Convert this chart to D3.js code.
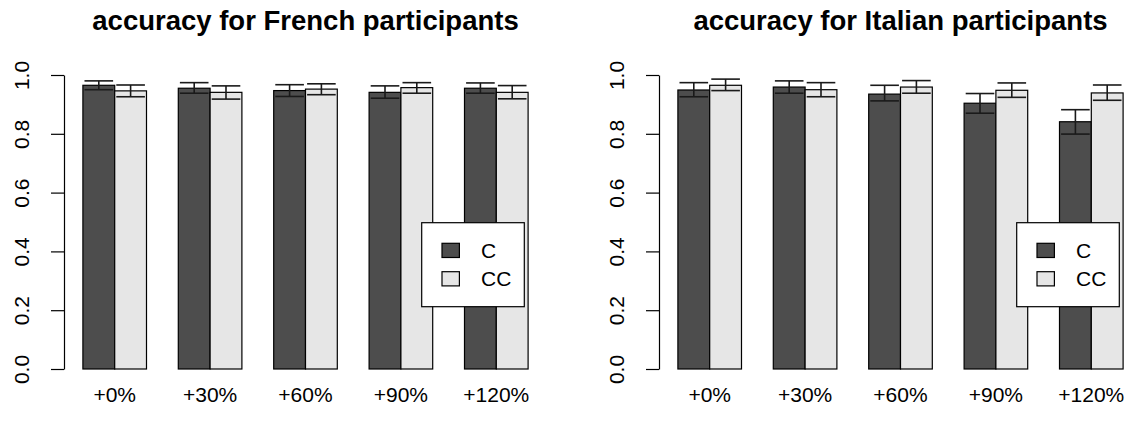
<!DOCTYPE html>
<html>
<head>
<meta charset="utf-8">
<script src="https://cdn.jsdelivr.net/npm/d3@7"></script>
<style>
  html, body { margin: 0; padding: 0; background: #fff; }
  svg { display: block; font-family: "Liberation Sans", Arial, sans-serif; }
</style>
</head>
<body>
<svg id="chart" width="1140" height="425"></svg>
<script>
const categories = ['+0%', '+30%', '+60%', '+90%', '+120%'];
const series = ['C', 'CC'];
const yTicks = [0, 0.2, 0.4, 0.6, 0.8, 1.0];

// French participants
const frenchC = [0.965, 0.955, 0.947, 0.941, 0.955];
const frenchCLo = [0.950, 0.938, 0.927, 0.921, 0.938];
const frenchCHi = [0.980, 0.974, 0.967, 0.963, 0.973];
const frenchCC = [0.946, 0.941, 0.952, 0.957, 0.941];
const frenchCCLo = [0.926, 0.918, 0.933, 0.938, 0.919];
const frenchCCHi = [0.966, 0.963, 0.970, 0.974, 0.964];

// Italian participants
const italianC = [0.949, 0.959, 0.935, 0.904, 0.841];
const italianCLo = [0.926, 0.938, 0.912, 0.870, 0.799];
const italianCHi = [0.974, 0.980, 0.965, 0.937, 0.882];
const italianCC = [0.965, 0.950, 0.959, 0.948, 0.939];
const italianCCLo = [0.947, 0.926, 0.938, 0.924, 0.914];
const italianCCHi = [0.986, 0.974, 0.981, 0.973, 0.966];

const fills = { C: '#4d4d4d', CC: '#e6e6e6' };

const panels = [
  { title: 'accuracy for French participants', dx: 0,
    C: [frenchC, frenchCLo, frenchCHi], CC: [frenchCC, frenchCCLo, frenchCCHi] },
  { title: 'accuracy for Italian participants', dx: 595,
    C: [italianC, italianCLo, italianCHi], CC: [italianCC, italianCCLo, italianCCHi] }
];

const svg = d3.select('#chart');

// plot region (R style)
const plotLeft = 65, plotRight = 546, plotTop = 75, plotBottom = 369;

const x0 = d3.scaleBand()
  .domain(categories)
  .range([plotLeft, plotRight])
  .paddingInner(1 / 3)
  .paddingOuter(0.1876);

const x1 = d3.scaleBand()
  .domain(series)
  .range([0, x0.bandwidth()]);

const y = d3.scaleLinear().domain([0, 1]).range([plotBottom, plotTop]);

panels.forEach(p => {
  const g = svg.append('g').attr('transform', `translate(${p.dx},0)`);

  const rows = [];
  categories.forEach((cat, i) => {
    series.forEach(s => {
      rows.push({ cat, s, v: p[s][0][i], lo: p[s][1][i], hi: p[s][2][i] });
    });
  });

  g.selectAll('rect.bar')
    .data(rows)
    .enter()
    .append('rect')
    .attr('class', 'bar')
    .attr('x', d => x0(d.cat) + x1(d.s))
    .attr('y', d => y(d.v))
    .attr('width', x1.bandwidth())
    .attr('height', d => y(0) - y(d.v))
    .attr('fill', d => fills[d.s])
    .attr('stroke', '#000')
    .attr('stroke-width', 1.2);

  // error bars
  const cap = x1.bandwidth() * 0.45;
  const eb = g.selectAll('g.err')
    .data(rows)
    .enter()
    .append('g')
    .attr('class', 'err')
    .attr('stroke', '#1a1a1a')
    .attr('stroke-width', 1.6);
  const cx = d => x0(d.cat) + x1(d.s) + x1.bandwidth() / 2;
  eb.append('line')
    .attr('x1', cx).attr('x2', cx)
    .attr('y1', d => y(d.lo)).attr('y2', d => y(d.hi));
  eb.append('line')
    .attr('x1', d => cx(d) - cap).attr('x2', d => cx(d) + cap)
    .attr('y1', d => y(d.hi)).attr('y2', d => y(d.hi));
  eb.append('line')
    .attr('x1', d => cx(d) - cap).attr('x2', d => cx(d) + cap)
    .attr('y1', d => y(d.lo)).attr('y2', d => y(d.lo));

  // y axis
  const yAxis = g.append('g')
    .attr('transform', `translate(${plotLeft - 1},0)`)
    .call(d3.axisLeft(y).tickValues(yTicks).tickFormat(d3.format('.1f'))
      .tickSize(13).tickSizeOuter(0).tickPadding(0));
  yAxis.select('.domain').attr('stroke', '#000').attr('stroke-width', 1.2);
  yAxis.selectAll('.tick line').attr('stroke', '#000').attr('stroke-width', 1.2);
  yAxis.selectAll('.tick text')
    .attr('x', null).attr('dy', null)
    .attr('text-anchor', 'middle')
    .attr('transform', 'translate(-35,0) rotate(-90)')
    .attr('fill', '#000')
    .style('font-size', '21px')
    .style('font-family', '"Liberation Sans", Arial, sans-serif');

  // x labels (no axis line)
  g.selectAll('text.xlab')
    .data(categories)
    .enter()
    .append('text')
    .attr('class', 'xlab')
    .attr('x', d => x0(d) + x0.bandwidth() / 2)
    .attr('y', 402)
    .attr('text-anchor', 'middle')
    .style('font-size', '21px')
    .text(d => d);

  // title
  g.append('text')
    .attr('x', (plotLeft + plotRight) / 2)
    .attr('y', 30)
    .attr('text-anchor', 'middle')
    .style('font-size', '27.5px')
    .style('font-weight', 'bold')
    .text(p.title);

  // legend
  const lg = g.append('g').attr('transform', 'translate(421.7,222.7)');
  lg.append('rect')
    .attr('width', 102.6).attr('height', 84)
    .attr('fill', '#fff').attr('stroke', '#000').attr('stroke-width', 1.2);
  series.forEach((s, i) => {
    lg.append('rect')
      .attr('x', 20.3).attr('y', 20.6 + i * 28.4)
      .attr('width', 17.4).attr('height', 14.2)
      .attr('fill', fills[s]).attr('stroke', '#000').attr('stroke-width', 1.2);
    lg.append('text')
      .attr('x', 59.3).attr('y', 27.7 + i * 28.4)
      .attr('dy', '0.35em')
      .style('font-size', '21px')
      .text(s);
  });
});
</script>
</body>
</html>
